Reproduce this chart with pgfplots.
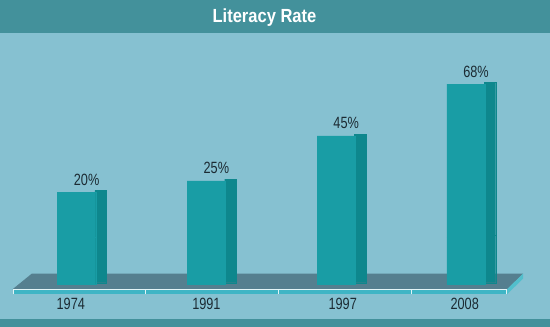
\documentclass[border=0pt]{standalone}
\usepackage{pgfplots}
\pgfplotsset{compat=1.18}
\usepackage{pgfplotstable}
\usepackage{fontspec}
\setmainfont{Liberation Sans}
\newfontfamily\labfont{Liberation Sans}[FakeStretch=0.78]
\newfontfamily\ttlfont{Liberation Sans}[FakeStretch=0.87]
\definecolor{bgc}{HTML}{86C1D1}
\definecolor{banner}{HTML}{43919B}
\definecolor{front}{HTML}{199DA5}
\definecolor{side}{HTML}{0E878D}
\definecolor{floortop}{HTML}{557F8F}
\definecolor{strip}{HTML}{3FB5C5}
\definecolor{stripside}{HTML}{52BFCC}
\definecolor{txt}{HTML}{1C2B33}
\pgfplotstableread{
x y
0 20
1 25
2 45
3 68
}\literacy
\begin{document}
\begin{tikzpicture}[x=1pt,y=1pt]
\fill[bgc] (0,0) rectangle (550,327);
\useasboundingbox (0,0) rectangle (550,327);
% title banner
\fill[banner] (0,293.5) rectangle (550,327);
\node[anchor=base, text=white, inner sep=0pt] at (264.5,304.3) {\ttlfont\fontsize{19}{22}\selectfont\bfseries Literacy Rate};
% bottom band
\fill[banner] (0,0) rectangle (550,8.3);
% floor
\fill[floortop] (12.5,37.7) -- (507,37.7) -- (523,53.3) -- (31.7,53.3) -- cycle;
\fill[strip] (12.5,32.7) rectangle (507,37.7);
\fill[stripside] (507,37.7) -- (523,53.3) -- (523,48.3) -- (507,32.7) -- cycle;
\draw[white!85!strip, line width=0.8pt] (12.5,37.4) -- (507,37.4);
\foreach \sx in {12.9,145,278.5,411,506.6}{
  \draw[white!85!strip, line width=0.8pt] (\sx,32.7) -- (\sx,37.7);
}
\begin{axis}[
  at={(11.7pt,42.5pt)}, anchor=south west,
  scale only axis, width=519.2pt, height=227.5pt,
  xmin=-0.5, xmax=3.5, ymin=-21.1, ymax=80,
  clip=false,
  axis line style={draw=none},
  tick style={draw=none},
  major tick length=0pt,
  ytick=\empty,
  xtick={-0.045,1,2.05,2.99},
  xticklabels={1974,1991,1997,2008},
  xticklabel style={anchor=base, yshift=-25.5pt, inner sep=0pt, text=txt, font=\labfont\fontsize{16.3}{19}\selectfont},
  /pgf/number format/assume math mode=true,
]
% side faces
\addplot[ybar, bar width=11.3pt, bar shift=24.0pt, fill=side, draw=side, line width=0.2pt, yshift=1.75pt] table[x=x,y=y] {\literacy};
\addplot[ybar, bar width=11.3pt, bar shift=24.0pt, fill=side, draw=side, line width=0.2pt, yshift=1.75pt] coordinates {(0,-21.1) (1,-21.1) (2,-21.1) (3,-21.1)};
% front faces
\addplot[ybar, bar width=38.3pt, bar shift=0pt, fill=front, draw=front, line width=0.2pt] coordinates {(0,-21.1) (1,-21.1) (2,-21.1) (3,-21.1)};
\addplot[ybar, bar width=38.3pt, bar shift=0pt, fill=front, draw=front, line width=0.2pt,
  nodes near coords={\pgfmathprintnumber{\pgfplotspointmeta}\%},
  every node near coord/.append style={anchor=base, xshift=10pt, yshift=7pt, inner sep=0pt, text=txt, font=\labfont\fontsize{16.3}{19}\selectfont}
] table[x=x,y=y] {\literacy};
\end{axis}
\end{tikzpicture}
\end{document}
